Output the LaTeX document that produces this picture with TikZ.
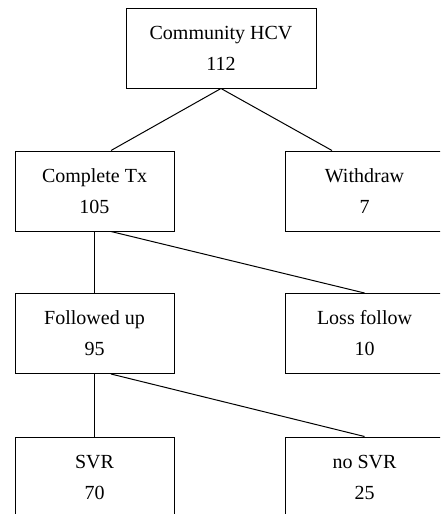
\documentclass[tikz,border=0pt]{standalone}
\usepackage{fontspec}
\setmainfont{Liberation Serif}
\usetikzlibrary{positioning}
\tikzstyle{box}=[draw, rectangle, line width=1pt, minimum width=159pt, minimum height=80pt, inner sep=0pt, align=center, font=\fontsize{20}{31}\selectfont]
\tikzstyle{link}=[line width=1pt]

\begin{document}
\begin{tikzpicture}[x=1pt,y=-1pt]
\useasboundingbox (0,0) rectangle (440,514);
\clip (0,0) rectangle (440,514);

% boxes
\node[box, minimum width=190pt] (hcv) at (221,48) {Community HCV\\112};
\node[box] (ctx) at (94.5,191) {Complete Tx\\105};
\node[box] (wd) at (364.5,191) {Withdraw\\7};
\node[box] (fu) at (94.5,333.5) {Followed up\\95};
\node[box] (loss) at (364.5,333.5) {Loss follow\\10};
\node[box] (svr) at (94.5,477) {SVR\\70};
\node[box] (nosvr) at (364.5,477) {no SVR\\25};

% links
\draw[link] (hcv.south) -- ([xshift=16.5pt]ctx.north);
\draw[link] (hcv.south) -- ([xshift=-32.5pt]wd.north);
\draw[link] (ctx.south) -- (fu.north);
\draw[link] ([xshift=16.5pt]ctx.south) -- (loss.north);
\draw[link] (fu.south) -- (svr.north);
\draw[link] ([xshift=16.5pt]fu.south) -- (nosvr.north);

\end{tikzpicture}
\end{document}
